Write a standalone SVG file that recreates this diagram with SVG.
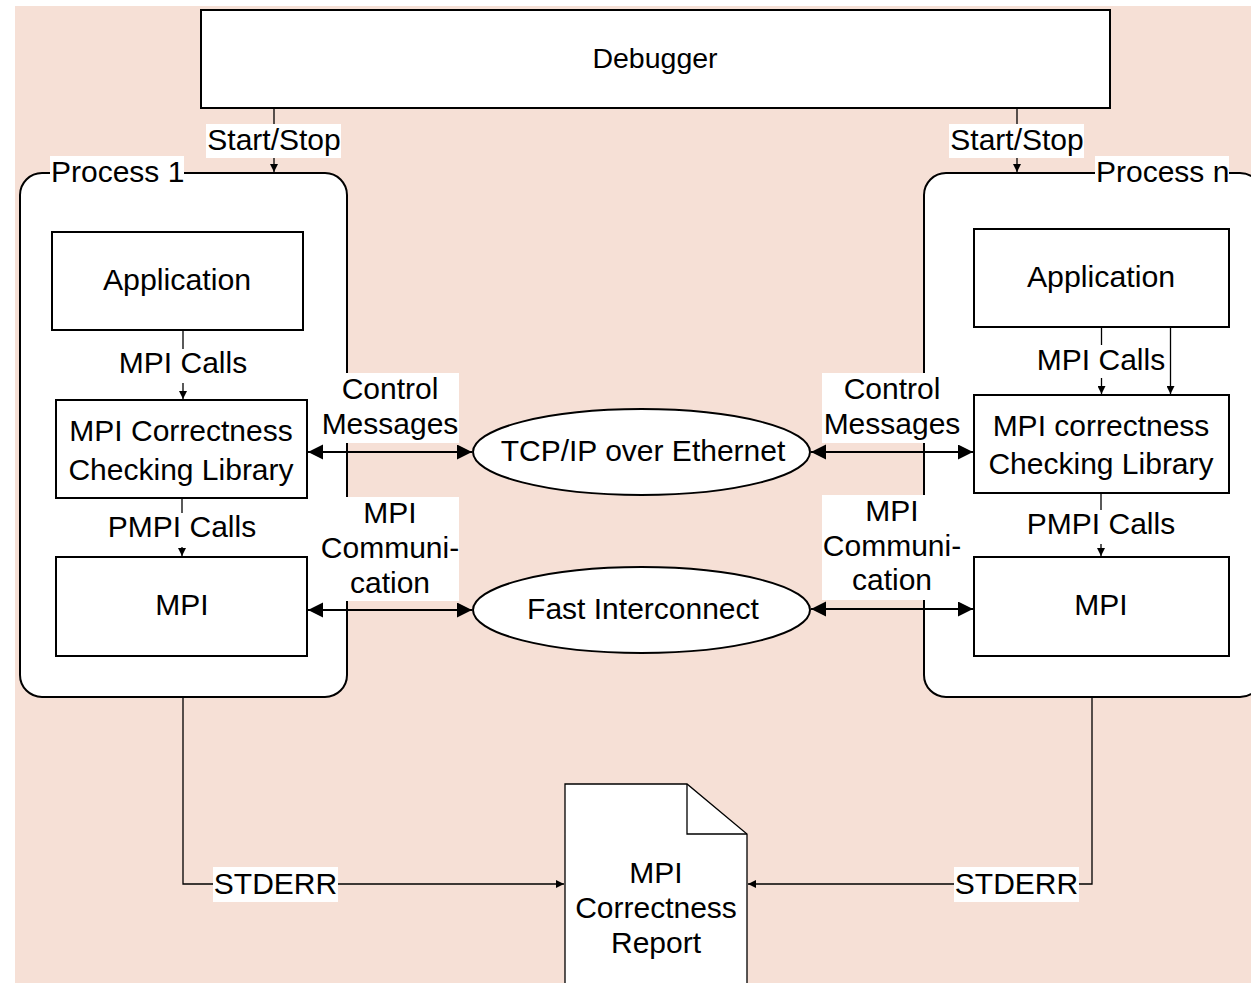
<svg xmlns="http://www.w3.org/2000/svg" width="1251" height="983" viewBox="0 0 1251 983">
<defs>
<style>
text{font-family:"Liberation Sans",Arial,sans-serif;font-size:30px;fill:#000}
.c{text-anchor:middle}
.box{fill:#fff;stroke:#000;stroke-width:2}
.proc{fill:#fff;stroke:#000;stroke-width:2}
.thin{fill:none;stroke:#000;stroke-width:1.3}
.thick{fill:none;stroke:#000;stroke-width:2}
.bg{fill:#fff}
</style>
<marker id="aS" markerUnits="userSpaceOnUse" markerWidth="10" markerHeight="8" refX="8" refY="4" orient="auto-start-reverse">
<path d="M0,0 L8,4 L0,8 z" fill="#000"/>
</marker>
<marker id="aB" markerUnits="userSpaceOnUse" markerWidth="16" markerHeight="16" refX="15" refY="7.5" orient="auto-start-reverse">
<path d="M0,0 L15,7.5 L0,15 z" fill="#000"/>
</marker>
</defs>
<rect x="0" y="0" width="1251" height="983" fill="#fff"/>
<rect x="15" y="6" width="1236" height="977" fill="#F6E0D6"/>

<g id="debugger">
<rect class="box" x="201" y="10" width="909" height="98"/>
<text class="c" x="655" y="68" style="font-size:28.5px">Debugger</text>
</g>

<g id="process1">
<rect class="proc" x="20" y="173" width="327" height="524" rx="22" ry="22"/>
<rect class="bg" x="50" y="156" width="134" height="28"/>
<text x="51" y="182">Process 1</text>
</g>

<g id="processn">
<rect class="proc" x="924" y="173" width="338" height="524" rx="22" ry="22"/>
<rect class="bg" x="1095" y="156" width="134" height="28"/>
<text x="1096" y="182">Process n</text>
</g>

<g id="app1">
<rect class="box" x="52" y="232" width="251" height="98"/>
<text class="c" x="177" y="290" style="font-size:30.3px">Application</text>
</g>
<g id="ccl1">
<rect class="box" x="56" y="400" width="251" height="98"/>
<text class="c" x="181" y="441">MPI Correctness</text>
<text class="c" x="181" y="480">Checking Library</text>
</g>
<g id="mpi1">
<rect class="box" x="56" y="557" width="251" height="99"/>
<text class="c" x="182" y="615">MPI</text>
</g>

<g id="appn">
<rect class="box" x="974" y="229" width="255" height="98"/>
<text class="c" x="1101" y="287" style="font-size:30.3px">Application</text>
</g>
<g id="ccln">
<rect class="box" x="974" y="395" width="255" height="98"/>
<text class="c" x="1101" y="436">MPI correctness</text>
<text class="c" x="1101" y="474">Checking Library</text>
</g>
<g id="mpin">
<rect class="box" x="974" y="557" width="255" height="99"/>
<text class="c" x="1101" y="615">MPI</text>
</g>

<g id="tcp">
<ellipse class="box" cx="641.5" cy="452" rx="168.5" ry="43"/>
<text class="c" x="643" y="461">TCP/IP over Ethernet</text>
</g>
<g id="fast">
<ellipse class="box" cx="641.5" cy="610" rx="168.5" ry="43"/>
<text class="c" x="643" y="619">Fast Interconnect</text>
</g>

<g id="report">
<path class="thin" d="M565,784 L687,784 L747,834 L747,990 L565,990 Z" style="fill:#fff"/>
<path class="thin" d="M687,784 L687,834 L747,834"/>
<text class="c" x="656" y="883">MPI</text>
<text class="c" x="656" y="918">Correctness</text>
<text class="c" x="656" y="953">Report</text>
</g>

<g id="connectors">
<path class="thin" d="M274,108 V172" marker-end="url(#aS)"/>
<rect class="bg" x="206" y="124" width="135" height="34"/>
<text class="c" x="274" y="150">Start/Stop</text>
<path class="thin" d="M1017,108 V172" marker-end="url(#aS)"/>
<rect class="bg" x="949" y="124" width="135" height="34"/>
<text class="c" x="1017" y="150">Start/Stop</text>

<path class="thin" d="M183,330 V399" marker-end="url(#aS)"/>
<rect class="bg" x="117" y="349" width="132" height="34"/>
<text class="c" x="183" y="373">MPI Calls</text>

<path class="thin" d="M182,498 V556" marker-end="url(#aS)"/>
<rect class="bg" x="106" y="513" width="152" height="34"/>
<text class="c" x="182" y="537">PMPI Calls</text>

<path class="thin" d="M1101.5,327 V394" marker-end="url(#aS)"/>
<path class="thin" d="M1170.5,327 V394" marker-end="url(#aS)"/>
<rect class="bg" x="1036" y="345" width="130" height="33"/>
<text class="c" x="1101" y="370">MPI Calls</text>

<path class="thin" d="M1101,493 V556" marker-end="url(#aS)"/>
<rect class="bg" x="1025" y="510" width="152" height="34"/>
<text class="c" x="1101" y="534">PMPI Calls</text>

<path class="thick" d="M308,452 H472" marker-start="url(#aB)" marker-end="url(#aB)"/>
<path class="thick" d="M308,610 H472" marker-start="url(#aB)" marker-end="url(#aB)"/>
<path class="thick" d="M811,452 H973" marker-start="url(#aB)" marker-end="url(#aB)"/>
<path class="thick" d="M811,609 H973" marker-start="url(#aB)" marker-end="url(#aB)"/>

<rect class="bg" x="322" y="373" width="137" height="70"/>
<text class="c" x="390" y="399">Control</text>
<text class="c" x="390" y="434">Messages</text>
<rect class="bg" x="322" y="497" width="137" height="104"/>
<text class="c" x="390" y="523">MPI</text>
<text class="c" x="390" y="558">Communi-</text>
<text class="c" x="390" y="593">cation</text>

<rect class="bg" x="822" y="373" width="140" height="70"/>
<text class="c" x="892" y="399">Control</text>
<text class="c" x="892" y="434">Messages</text>
<rect class="bg" x="822" y="495" width="140" height="105"/>
<text class="c" x="892" y="521">MPI</text>
<text class="c" x="892" y="556">Communi-</text>
<text class="c" x="892" y="590">cation</text>

<path class="thin" d="M183,697 V884 H564" marker-end="url(#aS)"/>
<rect class="bg" x="213" y="867" width="125" height="35"/>
<text class="c" x="275.5" y="894">STDERR</text>
<path class="thin" d="M1092,697 V884 H748" marker-end="url(#aS)"/>
<rect class="bg" x="954" y="867" width="125" height="35"/>
<text class="c" x="1016.5" y="894">STDERR</text>
</g>
</svg>
